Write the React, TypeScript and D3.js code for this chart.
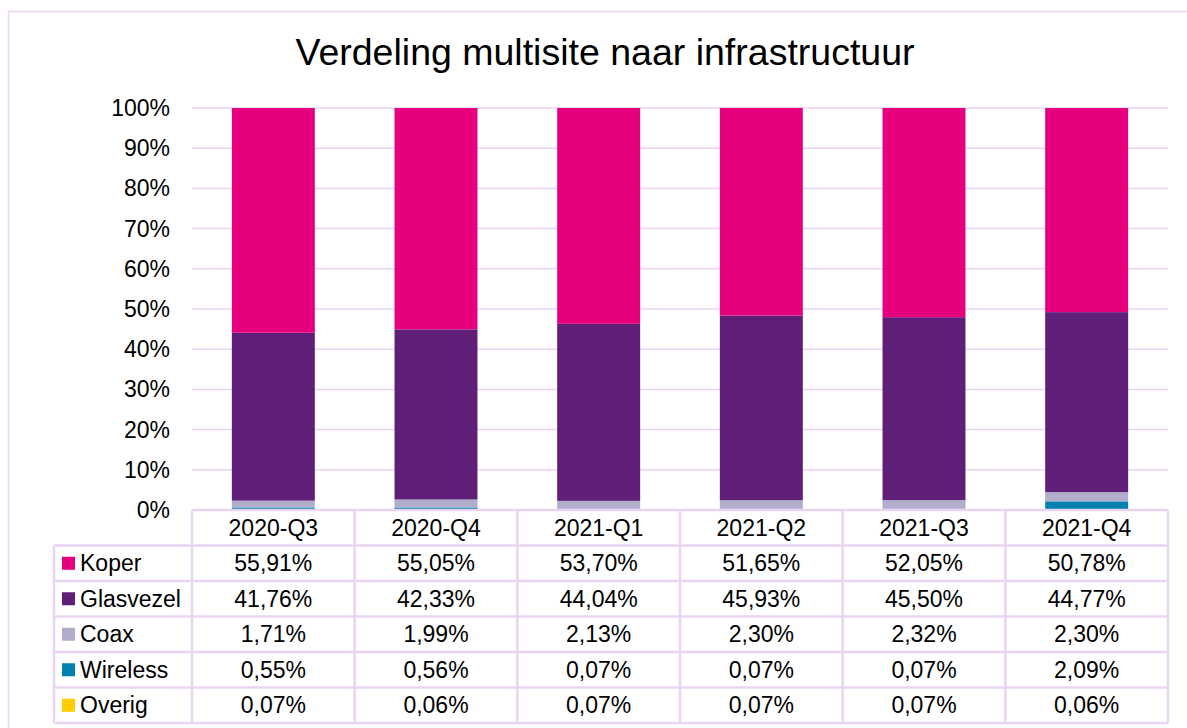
import React from "react";
import * as d3 from "d3";

const categories = ["2020-Q3", "2020-Q4", "2021-Q1", "2021-Q2", "2021-Q3", "2021-Q4"];
const series = ["Koper", "Glasvezel", "Coax", "Wireless", "Overig"];
const koper = [55.91, 55.05, 53.7, 51.65, 52.05, 50.78];
const glasvezel = [41.76, 42.33, 44.04, 45.93, 45.5, 44.77];
const coax = [1.71, 1.99, 2.13, 2.3, 2.32, 2.3];
const wireless = [0.55, 0.56, 0.07, 0.07, 0.07, 2.09];
const overig = [0.07, 0.06, 0.07, 0.07, 0.07, 0.06];
const yTicks = [0, 10, 20, 30, 40, 50, 60, 70, 80, 90, 100];

const colors: Record<string, string> = {
  Koper: "#E6007E",
  Glasvezel: "#5F1F78",
  Coax: "#B1ADCB",
  Wireless: "#0081B0",
  Overig: "#FFCC00",
};

const valuesBySeries: Record<string, number[]> = {
  Koper: koper,
  Glasvezel: glasvezel,
  Coax: coax,
  Wireless: wireless,
  Overig: overig,
};

const FONT = "'Liberation Sans', Arial, sans-serif";
const GRID = "#E9D5F2";

const App = () => {
  const W = 1187, H = 728;
  const left = 192, right = 1168, top = 108, bottom = 510;
  const rowH = 35.5;

  const x = d3.scaleBand<string>().domain(categories).range([left, right]).paddingInner(0.49).paddingOuter(0.245);
  const cols = d3.scaleBand<string>().domain(categories).range([left, right]);
  const y = d3.scaleLinear().domain([0, 100]).range([bottom, top]);

  // table rows built from the series arrays
  const rows = categories.map((c, i) => {
    const r: any = { cat: c };
    series.forEach((s) => (r[s] = valuesBySeries[s][i]));
    return r;
  });
  // stack bottom-up: Overig, Wireless, Coax, Glasvezel, Koper
  const stack = d3.stack<any>().keys([...series].reverse())(rows);

  const fmt = (v: number) => v.toFixed(2).replace(".", ",") + "%";

  return (
    <svg width={W} height={H} style={{ position: "absolute", left: 0, top: 0, background: "#fff" }} fontFamily={FONT}>
      <rect x={8.5} y={11.5} width={1300} height={900} fill="#fff" stroke={GRID} strokeWidth={1.5} />
      <text x={605} y={65} textAnchor="middle" fontSize={37.5} fill="#000">Verdeling multisite naar infrastructuur</text>

      {/* gridlines + y labels */}
      {yTicks.map((t) => (
        <g key={t}>
          <line x1={left} x2={right} y1={y(t)} y2={y(t)} stroke={GRID} strokeWidth={1.5} />
          <text x={170} y={y(t)} dy="0.35em" textAnchor="end" fontSize={23} fill="#000">{t}%</text>
        </g>
      ))}

      {/* bars */}
      {stack.map((layer) => (
        <g key={layer.key} fill={colors[layer.key]}>
          {layer.map((d, i) => (
            <rect key={i} x={x(categories[i])} width={x.bandwidth()} y={y(d[1])} height={Math.max(0, y(d[0]) - y(d[1]))} />
          ))}
        </g>
      ))}

      {/* data table */}
      <g stroke={GRID} strokeWidth={2.5} fill="none">
        <line x1={left} x2={right} y1={bottom} y2={bottom} />
        {series.map((s, i) => (
          <line key={s} x1={54} x2={right} y1={bottom + rowH * (i + 1)} y2={bottom + rowH * (i + 1)} />
        ))}
        <line x1={54} x2={right} y1={bottom + rowH * 6} y2={bottom + rowH * 6} />
        <line x1={54} x2={54} y1={bottom + rowH} y2={bottom + rowH * 6} />
        {categories.map((c) => (
          <line key={c} x1={cols(c)} x2={cols(c)} y1={bottom} y2={bottom + rowH * 6} />
        ))}
        <line x1={right} x2={right} y1={bottom} y2={bottom + rowH * 6} />
      </g>
      {categories.map((c) => (
        <text key={c} x={cols(c)! + cols.bandwidth() / 2} y={bottom + rowH / 2} dy="0.35em" textAnchor="middle" fontSize={23} fill="#000">{c}</text>
      ))}
      {series.map((s, i) => {
        const cy = bottom + rowH * (i + 1.5);
        return (
          <g key={s}>
            <rect x={62} y={cy - 6.5} width={13} height={13} fill={colors[s]} />
            <text x={80} y={cy} dy="0.35em" fontSize={23} fill="#000">{s}</text>
            {categories.map((c, j) => (
              <text key={c} x={cols(c)! + cols.bandwidth() / 2} y={cy} dy="0.35em" textAnchor="middle" fontSize={23} fill="#000">{fmt(valuesBySeries[s][j])}</text>
            ))}
          </g>
        );
      })}
    </svg>
  );
};

export default App;
